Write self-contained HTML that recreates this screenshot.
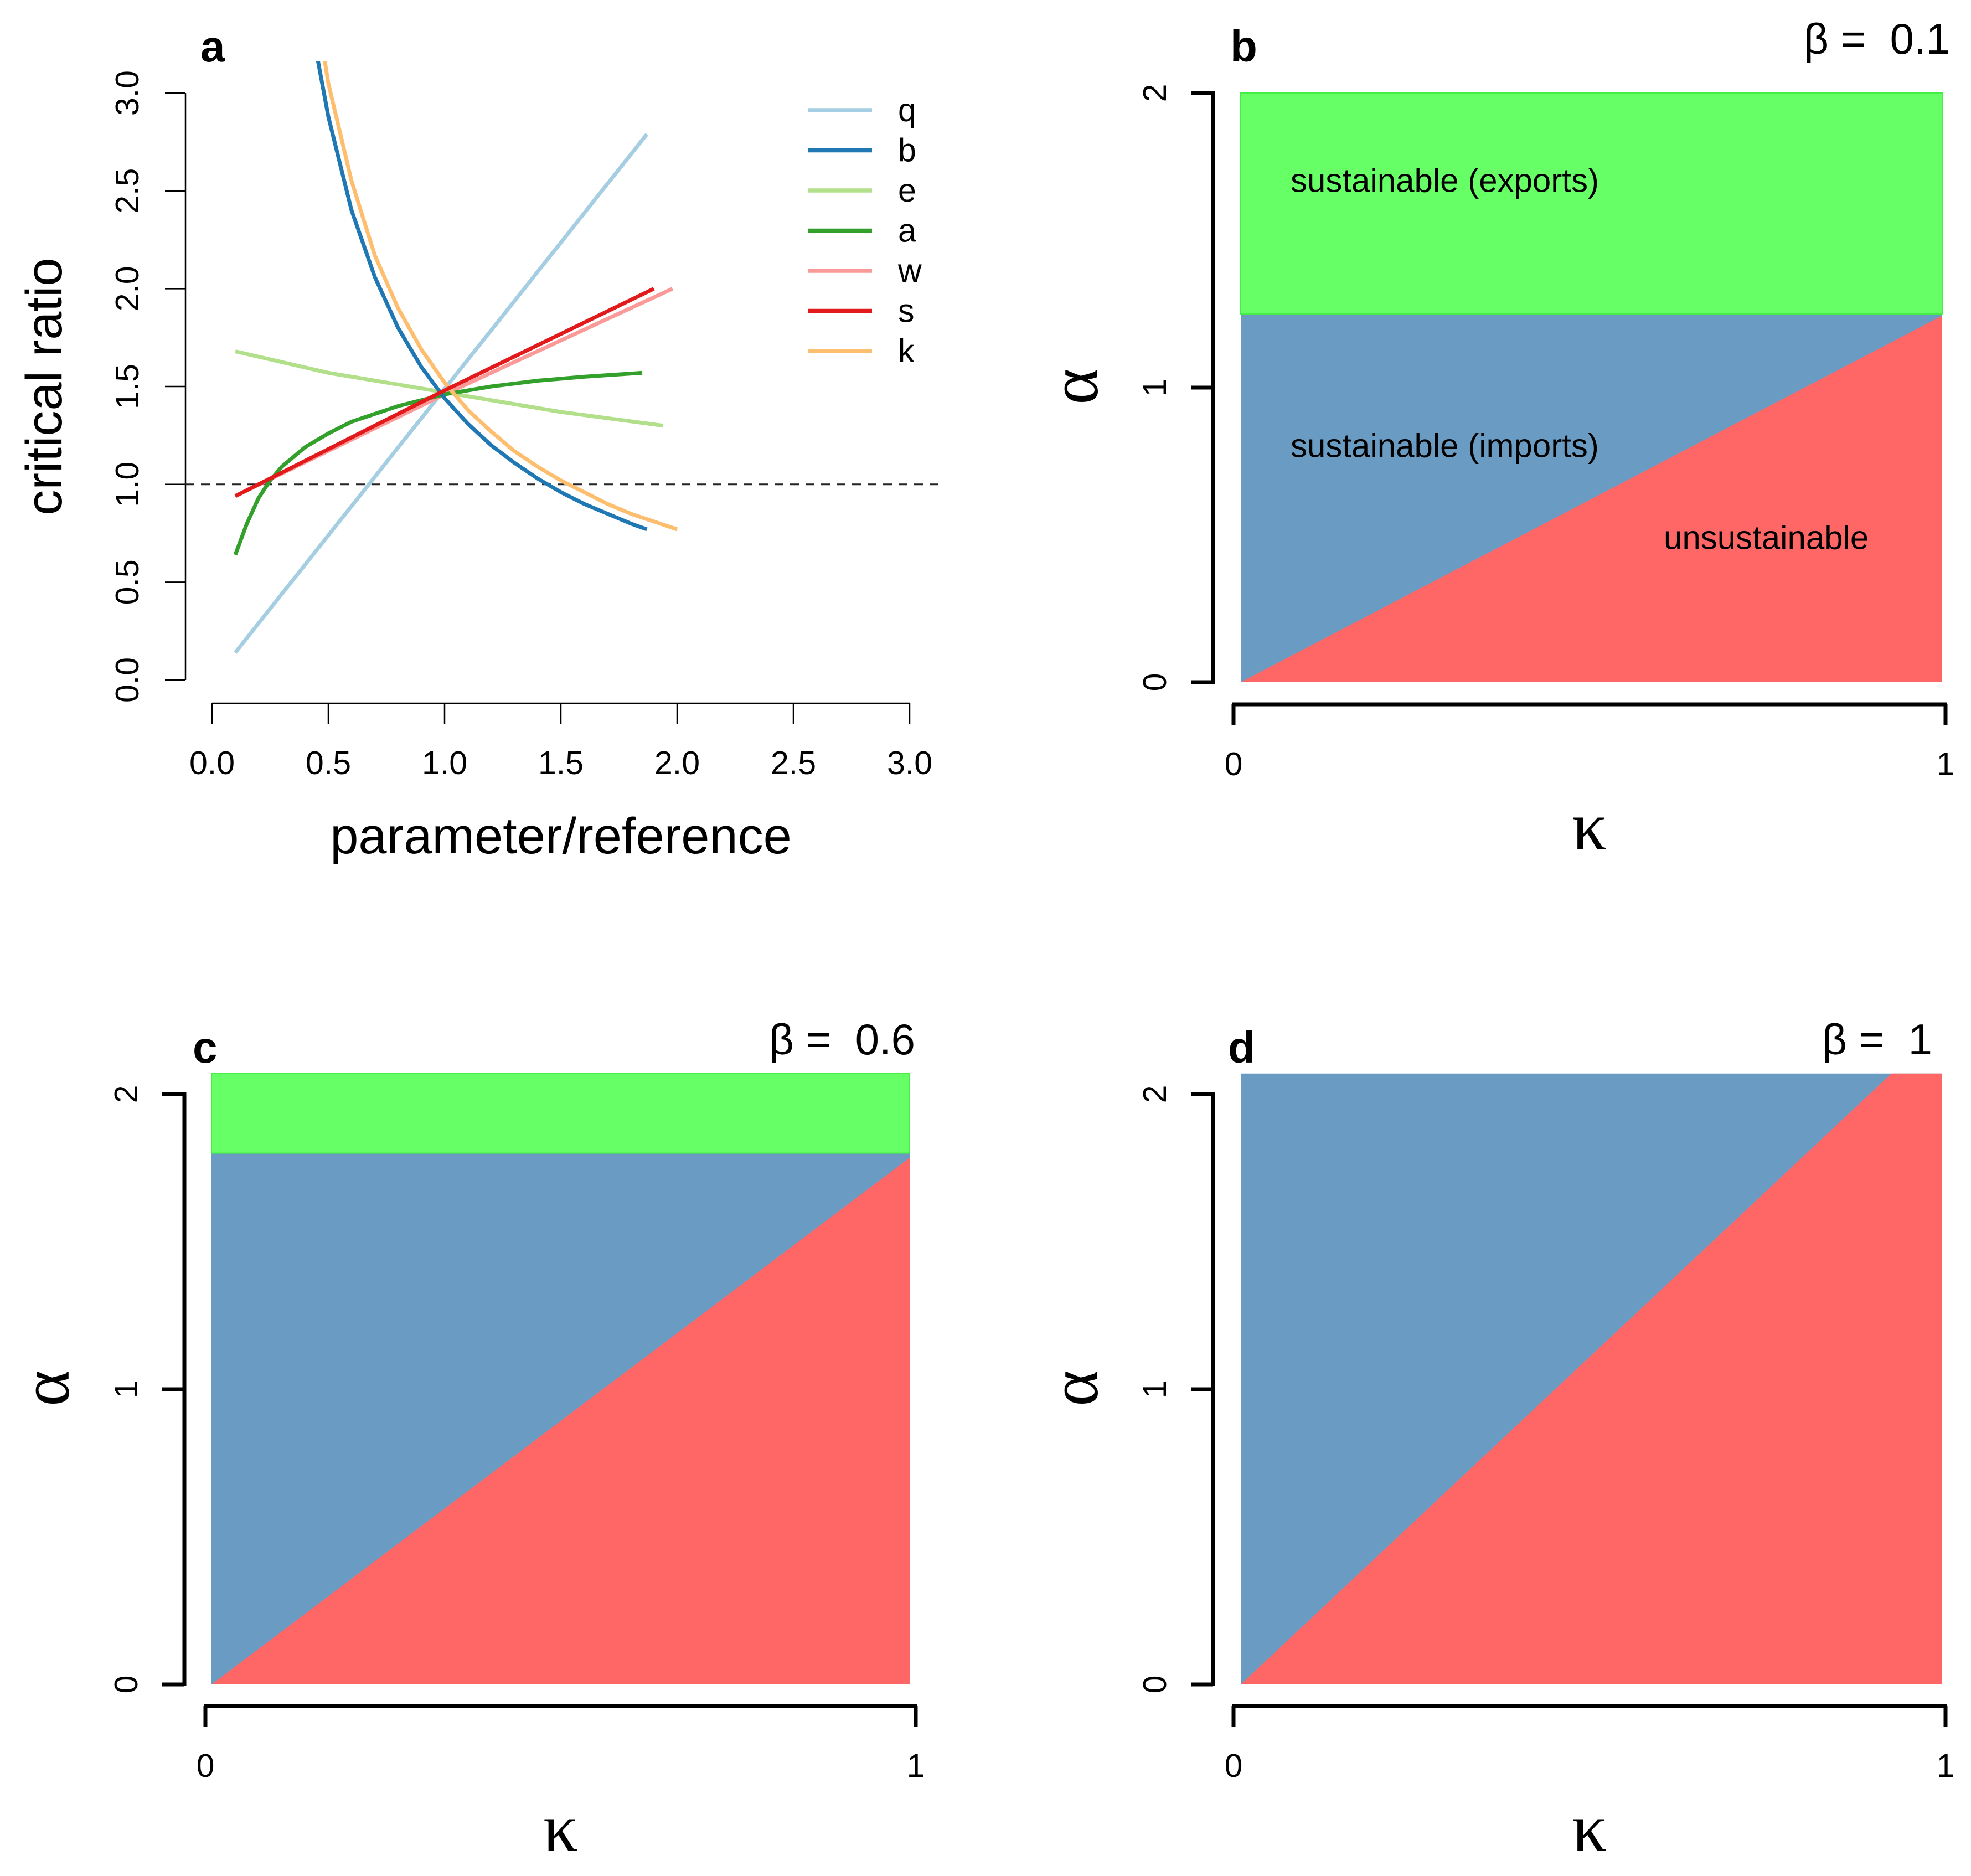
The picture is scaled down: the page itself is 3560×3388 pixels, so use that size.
<!DOCTYPE html>
<html><head><meta charset="utf-8"><style>
html,body{margin:0;padding:0;background:#fff}
svg{display:block}
text{font-family:"Liberation Sans",sans-serif;fill:#000}
.g{font-family:"Liberation Serif","DejaVu Serif",serif}
</style></head><body>
<svg id="fig" xmlns="http://www.w3.org/2000/svg" width="3560" height="3388" viewBox="0 0 3560 3388"></svg>
<script>
// ---- Panel a data ----
const seriesNames = ["q","b","e","a","w","s","k"];
const seriesColors = ["#A6CEE3","#1F78B4","#B2DF8A","#33A02C","#FB9A99","#E31A1C","#FDBF6F"];
const qX = [0.1, 1.87];
const qY = [0.14, 2.79];
const bX = [0.45,0.5,0.6,0.7,0.8,0.9,1.0,1.1,1.2,1.3,1.4,1.5,1.6,1.7,1.8,1.87];
const bY = [3.2,2.88,2.4,2.06,1.8,1.6,1.44,1.31,1.2,1.11,1.03,0.96,0.9,0.85,0.8,0.77];
const eX = [0.1,0.5,1.0,1.5,1.94];
const eY = [1.68,1.57,1.47,1.37,1.30];
const aX = [0.1,0.15,0.2,0.25,0.3,0.4,0.5,0.6,0.7,0.8,0.9,1.0,1.2,1.4,1.6,1.85];
const aY = [0.64,0.80,0.93,1.02,1.09,1.19,1.26,1.32,1.36,1.40,1.43,1.46,1.50,1.53,1.55,1.57];
const wX = [0.1,1.0,1.98];
const wY = [0.94,1.46,2.0];
const sX = [0.1,1.0,1.9];
const sY = [0.94,1.48,2.0];
const kX = [0.48,0.5,0.6,0.7,0.8,0.9,1.0,1.1,1.2,1.3,1.4,1.5,1.6,1.7,1.8,1.9,2.0];
const kY = [3.2,3.05,2.55,2.17,1.9,1.69,1.52,1.38,1.27,1.17,1.09,1.02,0.96,0.9,0.85,0.81,0.77];
const aTicks = [0,0.5,1,1.5,2,2.5,3];
const aTickLabels = ["0.0","0.5","1.0","1.5","2.0","2.5","3.0"];
const refLine = 1.0;
// ---- Panels b, c, d data ----
const panelLetters = ["b","c","d"];
const betas = ["0.1","0.6","1"];
const boundarySlope = [1.25, 1.8, 2.24];
const exportThreshold = [1.25, 1.8, 2.24];
const alphaTop = [2.0, 2.07, 2.07];
const alphaTicks = [0,1,2];
const kappaTicks = [0,1];

const svg = document.getElementById('fig');
const NS = "http://www.w3.org/2000/svg";
function mk(tag, attrs, parent){
  const e = document.createElementNS(NS, tag);
  for (const k in attrs) e.setAttribute(k, attrs[k]);
  (parent||svg).appendChild(e); return e;
}
function txt(s, attrs, parent){ const t = mk('text', attrs, parent); t.textContent = s; return t; }

// ===== Panel a =====
const ga = mk('g', {});


const ax = v => 383 + v*420;
const ay = v => 1228 - v*353.3;
const defs = mk('defs', {});
const cp = mk('clipPath', {id:'clipA'}, defs);
mk('rect', {x:300, y:110, width:1440, height:1200}, cp);
const yAxA = mk('g', {}, ga);


mk('line', {x1:335, y1:ay(0), x2:335, y2:ay(3), stroke:'#000', 'stroke-width':2.5}, yAxA);
aTicks.forEach((t,i)=>{
  mk('line', {x1:298, y1:ay(t), x2:335, y2:ay(t), stroke:'#000', 'stroke-width':2.5}, yAxA);
  const lb = txt(aTickLabels[i], {x:0, y:0, 'font-size':59, 'text-anchor':'middle', 'dominant-baseline':'central', transform:`translate(230,${ay(t)}) rotate(-90)`}, yAxA);
  
  
});
const xAxA = mk('g', {}, ga);


mk('line', {x1:ax(0), y1:1270, x2:ax(3), y2:1270, stroke:'#000', 'stroke-width':2.5}, xAxA);
aTicks.forEach((t,i)=>{
  mk('line', {x1:ax(t), y1:1270, x2:ax(t), y2:1308, stroke:'#000', 'stroke-width':2.5}, xAxA);
  const lb = txt(aTickLabels[i], {x:ax(t), y:1378, 'font-size':59, 'text-anchor':'middle', 'dominant-baseline':'central'}, xAxA);
  
  
});
const xtA = txt('parameter/reference', {x:1013, y:1541, 'font-size':92, 'text-anchor':'middle'}, ga);


const ytA = txt('critical ratio', {x:0, y:0, 'font-size':92, 'text-anchor':'middle', 'dominant-baseline':'central', transform:'translate(80,698) rotate(-90)'}, ga);


const la = txt('a', {x:362, y:111, 'font-size':80, 'font-weight':'bold'}, ga);


const dl = mk('line', {x1:335, y1:ay(refLine), x2:1694, y2:ay(refLine), stroke:'#222', 'stroke-width':3, 'stroke-dasharray':'16,12'}, ga);


const allX = [qX,bX,eX,aX,wX,sX,kX], allY = [qY,bY,eY,aY,wY,sY,kY];
const order = [0,2,4,3,1,6,5];
order.forEach(i=>{
  const pts = allX[i].map((x,j)=>ax(x).toFixed(1)+','+ay(allY[i][j]).toFixed(1)).join(' ');
  const pl = mk('polyline', {points:pts, fill:'none', stroke:seriesColors[i], 'stroke-width':7, 'stroke-linejoin':'round', 'clip-path':'url(#clipA)'}, ga);
  
  
});
const lg = mk('g', {}, ga);


seriesNames.forEach((n,i)=>{
  const y = 199 + i*72.5;
  const en = mk('g', {}, lg);
  
  
  mk('line', {x1:1460, y1:y, x2:1575, y2:y, stroke:seriesColors[i], 'stroke-width':7.5}, en);
  txt(n, {x:1622, y:y, 'font-size':59, 'dominant-baseline':'central'}, en);
});

// ===== Panels b, c, d =====
const layouts = [
  {yx:2191, k0:2228, k1:3514, fl:2241, fr:3508, a0:1232, a2:168, xy:1272, lx:2222, ly:111, br:3522, by:97, aty:698},
  {yx:333,  k0:371,  k1:1654, fl:382,  fr:1643, a0:3042, a2:1976, xy:3081, lx:348, ly:1919, br:1653, by:1904, aty:2507},
  {yx:2191, k0:2228, k1:3514, fl:2241, fr:3508, a0:3042, a2:1976, xy:3081, lx:2218, ly:1919, br:3490, by:1904, aty:2507}
];
panelLetters.forEach((L,p)=>{
  const c = layouts[p];
  const g = mk('g', {});
  
  
  const kx = k => c.k0 + k*(c.k1-c.k0);
  const ayv = a => c.a0 - a*(c.a0-c.a2)/2;
  const top = alphaTop[p];
  const thr = Math.min(exportThreshold[p], top);
  const blue = mk('polygon', {points:`${c.fl},${ayv(0)} ${c.fl},${ayv(thr)} ${c.fr},${ayv(thr)} ${c.fr},${ayv(0)}`, fill:'#6A9BC3'}, g);
  
  
  if (exportThreshold[p] < top) {
    const gr = mk('rect', {x:c.fl, y:ayv(top), width:c.fr-c.fl, height:ayv(thr)-ayv(top), fill:'#66FF66', stroke:'#44EE44', 'stroke-width':2}, g);
    
    
  }
  const s = boundarySlope[p];
  const kfr = (c.fr-c.k0)/(c.k1-c.k0);
  let pts;
  if (s*kfr <= top) pts = `${c.fl},${ayv(0)} ${c.fr},${ayv(s*kfr)} ${c.fr},${ayv(0)}`;
  else { const kc = top/s; pts = `${c.fl},${ayv(0)} ${kx(kc)},${ayv(top)} ${c.fr},${ayv(top)} ${c.fr},${ayv(0)}`; }
  const red = mk('polygon', {points:pts, fill:'#FF6666'}, g);
  
  
  const ya = mk('g', {}, g);
  
  
  mk('line', {x1:c.yx, y1:ayv(0)+3, x2:c.yx, y2:ayv(2)-3, stroke:'#000', 'stroke-width':7}, ya);
  alphaTicks.forEach(t=>{
    mk('line', {x1:c.yx-40, y1:ayv(t), x2:c.yx, y2:ayv(t), stroke:'#000', 'stroke-width':7}, ya);
    txt(String(t), {x:0, y:0, 'font-size':59, 'text-anchor':'middle', 'dominant-baseline':'central', transform:`translate(${c.yx-105},${ayv(t)}) rotate(-90)`}, ya);
  });
  const xa = mk('g', {}, g);
  
  
  mk('line', {x1:kx(0)-3, y1:c.xy, x2:kx(1)+3, y2:c.xy, stroke:'#000', 'stroke-width':7}, xa);
  kappaTicks.forEach(t=>{
    mk('line', {x1:kx(t), y1:c.xy, x2:kx(t), y2:c.xy+38, stroke:'#000', 'stroke-width':7}, xa);
    txt(String(t), {x:kx(t), y:c.xy+108, 'font-size':59, 'text-anchor':'middle', 'dominant-baseline':'central'}, xa);
  });
  const kt = txt('κ', {x:(kx(0)+kx(1))/2, y:c.xy+262, 'font-size':125, 'text-anchor':'middle', class:'g'}, g);
  
  
  const at = txt('α', {x:0, y:0, 'font-size':125, 'text-anchor':'middle', 'dominant-baseline':'central', class:'g', transform:`translate(${c.yx-250},${c.aty}) rotate(-90)`}, g);
  
  
  const pl = txt(L, {x:c.lx, y:c.ly, 'font-size':80, 'font-weight':'bold'}, g);
  
  
  const bt = txt('β =  '+betas[p], {x:c.br, y:c.by, 'font-size':78, 'text-anchor':'end', 'xml:space':'preserve', style:'white-space:pre'}, g);
  
  
  if (p===0) {
    const t1 = txt('sustainable (exports)', {x:2331, y:326, 'font-size':60, 'dominant-baseline':'central'}, g);
    
    
    const t2 = txt('sustainable (imports)', {x:2331, y:805, 'font-size':60, 'dominant-baseline':'central'}, g);
    
    
    const t3 = txt('unsustainable', {x:3005, y:971, 'font-size':60, 'dominant-baseline':'central'}, g);
    
    
  }
});
</script>
</body></html>
